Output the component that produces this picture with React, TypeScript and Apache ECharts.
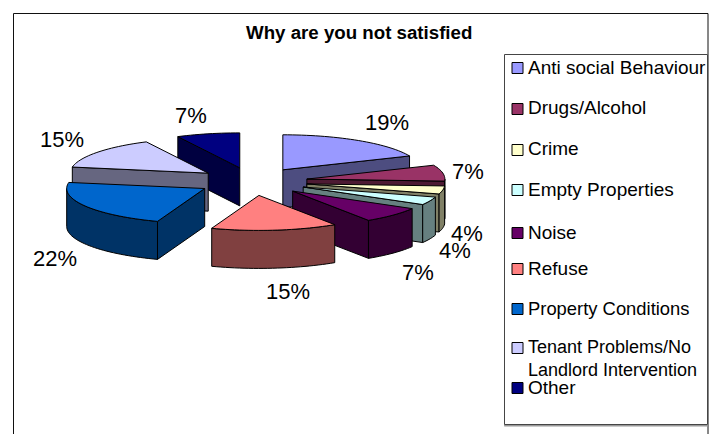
import React, { useEffect, useRef } from "react";
import * as echarts from "echarts";

const titleText = "Why are you not satisfied";
const categories = [
  "Anti social Behaviour",
  "Drugs/Alcohol",
  "Crime",
  "Empty Properties",
  "Noise",
  "Refuse",
  "Property Conditions",
  "Tenant Problems/No\nLandlord Intervention",
  "Other",
];
const responses = [5, 2, 1, 1, 2, 4, 6, 4, 2];
const topColors = ["#9999FF", "#993366", "#FFFFCC", "#CCFFFF", "#660066", "#FF8080", "#0066CC", "#CCCCFF", "#000080"];
const sideColors = ["#4D4D80", "#4D1A33", "#808066", "#668080", "#330033", "#804040", "#003366", "#666680", "#000040"];

// Back-to-front painting rank of each slice.
const paintRank = [2, 3, 4, 5, 6, 8, 7, 1, 0];

// Projected pie: centre, ellipse radii, wall height and explosion as a share of the radius.
const PIE = { cx: 252.5, cy: 181.5, rx: 138, ry: 35, depth: 38, explode: 0.4 };

// Percentage label centres, one per slice.
const labelCentres = [
  [387, 122], [468, 171], [467, 233], [455, 250], [418, 272],
  [288, 291], [55, 258], [62, 139], [191, 115],
];
// Legend layout: swatch and text centre lines, and type size per entry.
const legendSwatchY = [68, 109, 150, 190, 233, 269, 309, 348, 388];
const legendTextY = [67, 107, 148, 189, 232, 268, 308, 358, 387];
const legendFontSizes = [19, 19, 19, 19, 19, 19, 18.4, 18, 19];

const total = responses.reduce((a, b) => a + b, 0);
const cumulative = responses.reduce<number[]>((acc, v) => {
  acc.push(acc[acc.length - 1] + (v / total) * 360);
  return acc;
}, [0]);

const rad = (d: number) => (d * Math.PI) / 180;
const ellipsePoint = (ox: number, oy: number, deg: number, k = 1) => [
  ox + k * PIE.rx * Math.sin(rad(deg)),
  oy - k * PIE.ry * Math.cos(rad(deg)),
];
const arcPoints = (ox: number, oy: number, from: number, to: number) => {
  const pts: number[][] = [];
  const n = Math.max(2, Math.ceil((to - from) / 2));
  for (let i = 0; i <= n; i++) pts.push(ellipsePoint(ox, oy, from + ((to - from) * i) / n));
  return pts;
};

// Draws one exploded slice: visible cut faces and rim, then its top face and percentage.
function renderSlice(params: any, api: any) {
  const i = params.dataIndex;
  const share = (api.value(0) / total) * 360;
  const a = cumulative[i];
  const b = a + share;
  const [ox, oy] = ellipsePoint(PIE.cx, PIE.cy, a + share / 2, PIE.explode);
  const base = paintRank[i] * 10;
  const lineStyle = { stroke: "#000", lineWidth: 1, lineJoin: "round" };
  const children: any[] = [];
  const side = { ...lineStyle, fill: sideColors[i] };

  const wall = (deg: number, z: number) => {
    const p = ellipsePoint(ox, oy, deg);
    children.push({
      type: "polygon",
      z2: base + z,
      shape: { points: [[ox, oy], p, [p[0], p[1] + PIE.depth], [ox, oy + PIE.depth]] },
      style: side,
    });
  };
  if (Math.sin(rad(a)) < -1e-6) wall(a, 1);
  if (Math.sin(rad(b)) > 1e-6) wall(b, 1);

  const rimFrom = Math.max(a, 90);
  const rimTo = Math.min(b, 270);
  if (rimTo > rimFrom) {
    const upper = arcPoints(ox, oy, rimFrom, rimTo);
    const lower = upper.map(([x, y]) => [x, y + PIE.depth]).reverse();
    children.push({
      type: "polygon",
      z2: base + 2,
      shape: { points: [...upper, ...lower] },
      style: side,
    });
  }

  children.push({
    type: "polygon",
    z2: base + 3,
    shape: { points: [[ox, oy], ...arcPoints(ox, oy, a, b)] },
    style: { ...lineStyle, fill: topColors[i] },
  });

  children.push({
    type: "text",
    z2: 200,
    style: {
      x: labelCentres[i][0],
      y: labelCentres[i][1],
      text: `${Math.round((api.value(0) / total) * 100)}%`,
      fill: "#000",
      font: '22px "Liberation Sans", Arial, sans-serif',
      align: "center",
      verticalAlign: "middle",
    },
  });
  return { type: "group", children };
}

const legendGraphics = categories.flatMap((name, i) => [
  {
    type: "rect",
    shape: { x: 512, y: legendSwatchY[i] - 5.5, width: 11, height: 11 },
    style: { fill: topColors[i], stroke: "#000", lineWidth: 1 },
  },
  {
    type: "text",
    style: {
      x: 528,
      y: legendTextY[i],
      text: name,
      fill: "#000",
      font: `${legendFontSizes[i]}px "Liberation Sans", Arial, sans-serif`,
      lineHeight: 23,
      verticalAlign: "middle",
    },
  },
]);

export default function App() {
  const ref = useRef<HTMLDivElement>(null);
  useEffect(() => {
    const chart = echarts.init(ref.current!, undefined, { renderer: "svg" });
    chart.setOption({
      animation: false,
      backgroundColor: "#fff",
      title: {
        text: titleText,
        left: 241,
        top: 18,
        textStyle: {
          fontFamily: '"Liberation Sans", Arial, sans-serif',
          fontSize: 18.7,
          fontWeight: "bold",
          color: "#000",
        },
      },
      graphic: [
        {
          type: "rect",
          shape: { x: 13.5, y: 13.5, width: 694.5, height: 440 },
          style: { fill: "none", stroke: "#111", lineWidth: 1 },
        },
        {
          type: "rect",
          shape: { x: 504.5, y: 54.5, width: 203, height: 370 },
          style: { fill: "#fff", stroke: "#444", lineWidth: 1, shadowColor: "#999", shadowOffsetY: 1.5, shadowBlur: 0 },
        },
        ...legendGraphics,
      ],
      series: [
        {
          type: "custom",
          coordinateSystem: "none",
          silent: true,
          data: responses.map((v) => [v]),
          renderItem: renderSlice,
        },
      ],
    });
    return () => chart.dispose();
  }, []);
  return <div ref={ref} style={{ position: "absolute", left: 0, top: 0, width: 710, height: 434 }} />;
}
